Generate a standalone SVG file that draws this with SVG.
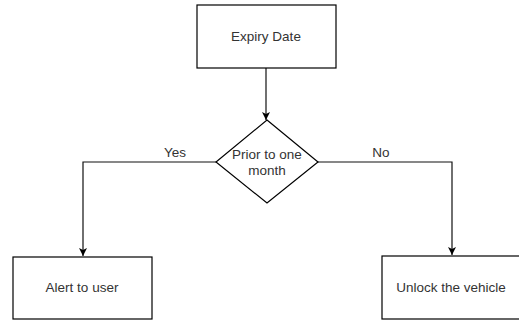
<svg xmlns="http://www.w3.org/2000/svg" width="519" height="322" viewBox="0 0 519 322">
<defs>
<style>
.box{fill:#fff;stroke:#000;stroke-width:1.2}
.t{font-family:"Liberation Sans",Arial,sans-serif;font-size:13.5px;fill:#333;text-anchor:middle}
.c{fill:none;stroke:#111;stroke-width:1.2}
</style>
<marker id="ah" markerWidth="10" markerHeight="10" refX="8" refY="5" orient="auto" markerUnits="userSpaceOnUse">
<path d="M0,1 L8,5 L0,9 L2,5 Z" fill="#000"/>
</marker>
</defs>
<rect width="519" height="322" fill="#fff"/>
<g id="connectors">
<path class="c" d="M266,68 V120" marker-end="url(#ah)"/>
<path class="c" d="M216,162 H83 V256" marker-end="url(#ah)"/>
<path class="c" d="M318,162 H452 V255" marker-end="url(#ah)"/>
<text class="t" x="175" y="157">Yes</text>
<text class="t" x="381" y="157">No</text>
</g>
<g id="expiry">
<rect class="box" x="197" y="5" width="139" height="63"/>
<text class="t" x="266" y="41">Expiry Date</text>
</g>
<g id="decision">
<path class="box" d="M267,120 L318,162 L267,203 L216,162 Z"/>
<text class="t" x="267" y="159">Prior to one</text>
<text class="t" x="267" y="175">month</text>
</g>
<g id="alert">
<rect class="box" x="13" y="257" width="139" height="62"/>
<text class="t" x="82" y="292">Alert to user</text>
</g>
<g id="unlock">
<rect class="box" x="382" y="256" width="139" height="63"/>
<text class="t" x="451" y="292">Unlock the vehicle</text>
</g>
</svg>
